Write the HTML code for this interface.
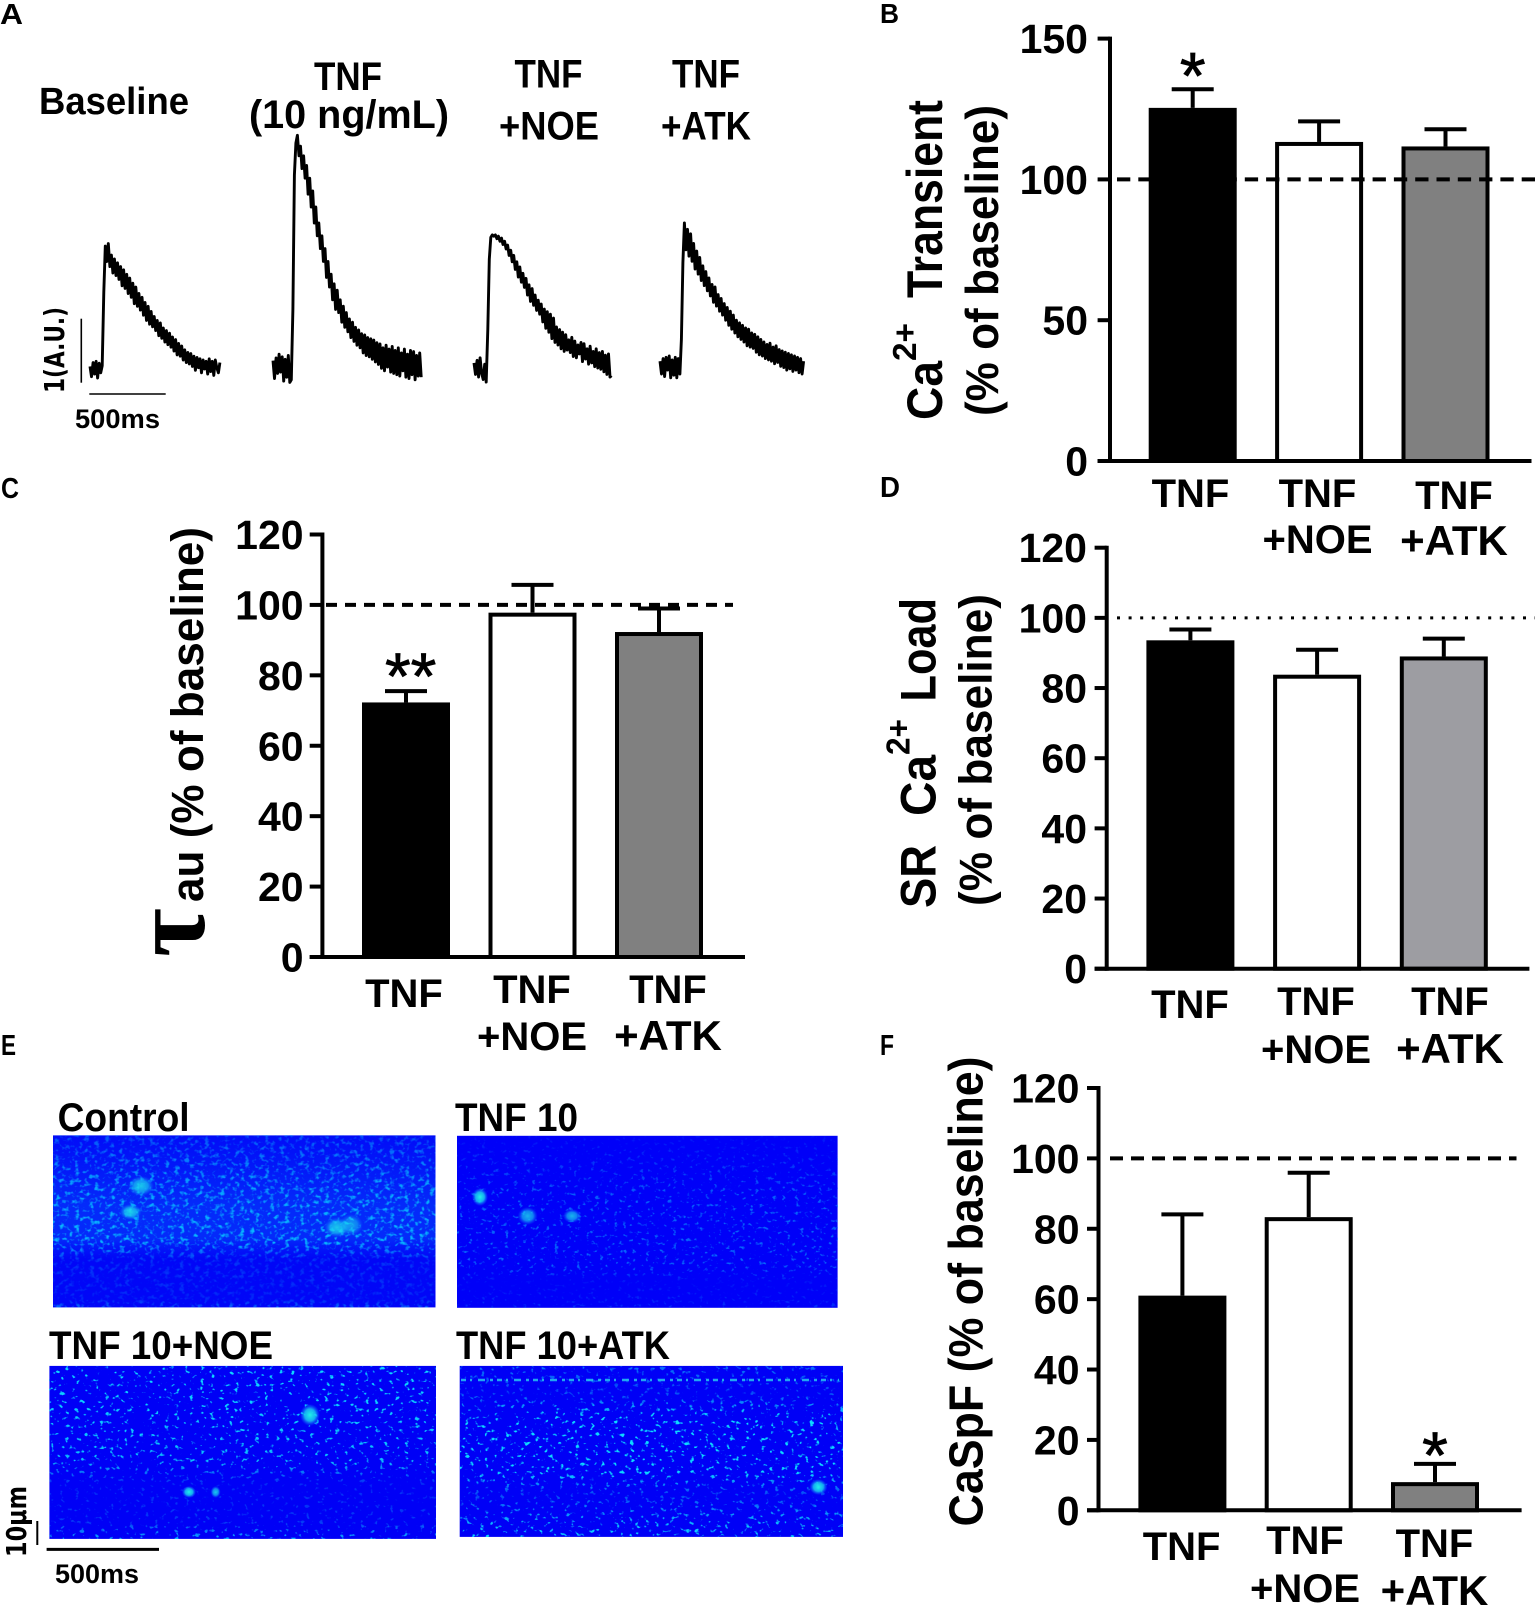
<!DOCTYPE html>
<html lang="en">
<head>
<meta charset="utf-8">
<title>TNF calcium transient figure</title>
<style>
html,body{margin:0;padding:0;background:#fff;}
svg{display:block;position:absolute;left:0;top:0;}
text{font-family:"Liberation Sans",sans-serif;fill:#000;}
.b{font-weight:700;}
</style>
</head>
<body>
<svg id="fig" xmlns="http://www.w3.org/2000/svg" width="1535" height="1605" viewBox="0 0 1535 1605">
<defs>
<filter id="speckDense" x="0" y="0" width="100%" height="100%" color-interpolation-filters="sRGB"><feTurbulence type="fractalNoise" baseFrequency=".2 .24" numOctaves="2" seed="4"/><feColorMatrix type="matrix" values="0 0 0 0 .03 0 0 0 0 .72 0 0 0 0 1 4 0 0 0 -2.05"/></filter>
<filter id="speckA" x="0" y="0" width="100%" height="100%" color-interpolation-filters="sRGB"><feTurbulence type="fractalNoise" baseFrequency=".22 .26" numOctaves="2" seed="11"/><feColorMatrix type="matrix" values="0 0 0 0 .03 0 0 0 0 .55 0 0 0 0 1 6 0 0 0 -3.7"/></filter>
<filter id="speckB" x="0" y="0" width="100%" height="100%" color-interpolation-filters="sRGB"><feTurbulence type="fractalNoise" baseFrequency=".2 .24" numOctaves="2" seed="23"/><feColorMatrix type="matrix" values="0 0 0 0 .05 0 0 0 0 .85 0 0 0 0 1 8 0 0 0 -5.1"/></filter>
<filter id="speckC" x="0" y="0" width="100%" height="100%" color-interpolation-filters="sRGB"><feTurbulence type="fractalNoise" baseFrequency=".2 .24" numOctaves="2" seed="37"/><feColorMatrix type="matrix" values="0 0 0 0 .05 0 0 0 0 .85 0 0 0 0 1 8 0 0 0 -5"/></filter>
<linearGradient id="maskControl" x1="0" y1="0" x2="0" y2="1"><stop offset="0" stop-color="#666"/><stop offset=".3" stop-color="#ddd"/><stop offset=".62" stop-color="#fff"/><stop offset=".72" stop-color="#444"/><stop offset=".95" stop-color="#333"/><stop offset="1" stop-color="#999"/></linearGradient>
<linearGradient id="maskTnf" x1="0" y1="0" x2="0" y2="1"><stop offset="0" stop-color="#222"/><stop offset=".35" stop-color="#aaa"/><stop offset=".75" stop-color="#bbb"/><stop offset=".85" stop-color="#222"/><stop offset="1" stop-color="#555"/></linearGradient>
<linearGradient id="maskNoe" x1="0" y1="0" x2="0" y2="1"><stop offset="0" stop-color="#fff"/><stop offset=".55" stop-color="#ddd"/><stop offset=".68" stop-color="#333"/><stop offset=".9" stop-color="#444"/><stop offset="1" stop-color="#ccc"/></linearGradient>
<linearGradient id="maskAtk" x1="0" y1="0" x2="0" y2="1"><stop offset="0" stop-color="#888"/><stop offset=".15" stop-color="#555"/><stop offset=".3" stop-color="#fff"/><stop offset=".62" stop-color="#fff"/><stop offset=".75" stop-color="#555"/><stop offset=".9" stop-color="#ccc"/><stop offset="1" stop-color="#fff"/></linearGradient>
<linearGradient id="bandControl" x1="0" y1="0" x2="0" y2="1"><stop offset="0" stop-color="#0a50ff" stop-opacity=".15"/><stop offset=".4" stop-color="#0a68ff" stop-opacity=".4"/><stop offset=".6" stop-color="#0a68ff" stop-opacity=".4"/><stop offset=".72" stop-color="#0a40ff" stop-opacity=".1"/><stop offset="1" stop-color="#0a40ff" stop-opacity=".1"/></linearGradient>
<radialGradient id="spot"><stop offset="0" stop-color="#20f0e8"/><stop offset=".55" stop-color="#18d8f0" stop-opacity=".8"/><stop offset="1" stop-color="#1080ff" stop-opacity="0"/></radialGradient>
<mask id="mControl" maskUnits="userSpaceOnUse" x="53" y="1135" width="383" height="173"><rect x="53" y="1135" width="383" height="173" fill="url(#maskControl)"/></mask>
<mask id="mTnf" maskUnits="userSpaceOnUse" x="457" y="1136" width="381" height="172"><rect x="457" y="1136" width="381" height="172" fill="url(#maskTnf)"/></mask>
<mask id="mNoe" maskUnits="userSpaceOnUse" x="49" y="1366" width="387" height="173"><rect x="49" y="1366" width="387" height="173" fill="url(#maskNoe)"/></mask>
<mask id="mAtk" maskUnits="userSpaceOnUse" x="460" y="1366" width="383" height="171"><rect x="460" y="1366" width="383" height="171" fill="url(#maskAtk)"/></mask>
</defs>

<!-- Panel letters -->
<text class="b" x="0" y="24" font-size="29" textLength="23" lengthAdjust="spacingAndGlyphs">A</text>
<text class="b" x="880" y="23" font-size="28" textLength="19" lengthAdjust="spacingAndGlyphs">B</text>
<text class="b" x="1" y="498" font-size="29" textLength="18" lengthAdjust="spacingAndGlyphs">C</text>
<text class="b" x="880" y="497" font-size="29" textLength="20" lengthAdjust="spacingAndGlyphs">D</text>
<text class="b" x="1" y="1055" font-size="29" textLength="15" lengthAdjust="spacingAndGlyphs">E</text>
<text class="b" x="880" y="1055" font-size="29" textLength="14" lengthAdjust="spacingAndGlyphs">F</text>

<!-- Panel A headers -->
<text class="b" x="39" y="114" font-size="38" textLength="150" lengthAdjust="spacingAndGlyphs">Baseline</text>
<text class="b" x="314" y="90" font-size="40" textLength="68" lengthAdjust="spacingAndGlyphs">TNF</text>
<text class="b" x="249" y="128" font-size="40" textLength="200" lengthAdjust="spacingAndGlyphs">(10 ng/mL)</text>
<text class="b" x="514.5" y="87.5" font-size="40" textLength="68" lengthAdjust="spacingAndGlyphs">TNF</text>
<text class="b" x="499" y="139.5" font-size="40" textLength="100" lengthAdjust="spacingAndGlyphs">+NOE</text>
<text class="b" x="672" y="87.5" font-size="40" textLength="68" lengthAdjust="spacingAndGlyphs">TNF</text>
<text class="b" x="661" y="139.5" font-size="40" textLength="90" lengthAdjust="spacingAndGlyphs">+ATK</text>
<line x1="81.3" y1="318.7" x2="81.3" y2="382.7" stroke="#000" stroke-width="1.6"/>
<line x1="89.3" y1="394" x2="165.7" y2="394" stroke="#000" stroke-width="1.6"/>
<text transform="translate(64,393) rotate(-90)" font-size="28" textLength="86" lengthAdjust="spacingAndGlyphs" style="font-family:'DejaVu Sans',sans-serif;font-weight:700">1(A.U.)</text>
<text class="b" x="75" y="428" font-size="27" textLength="85" lengthAdjust="spacingAndGlyphs">500ms</text>

<g id="traces"></g>
<g id="panelB"></g>
<g id="panelC"></g>
<g id="panelD"></g>
<g id="panelF"></g>

<!-- Y titles -->
<text class="b" transform="translate(941.8,420) rotate(-90)" font-size="50" textLength="59" lengthAdjust="spacingAndGlyphs">Ca</text>
<text class="b" transform="translate(916,361) rotate(-90)" font-size="33" textLength="38" lengthAdjust="spacingAndGlyphs">2+</text>
<text class="b" transform="translate(941.8,298) rotate(-90)" font-size="50" textLength="198" lengthAdjust="spacingAndGlyphs">Transient</text>
<text class="b" transform="translate(997.8,416) rotate(-90)" font-size="46" textLength="311" lengthAdjust="spacingAndGlyphs">(% of baseline)</text>
<text transform="translate(204,957) rotate(-90)" font-size="106" font-weight="700" style="font-family:'Liberation Serif',serif">τ</text>
<text class="b" transform="translate(203,902) rotate(-90)" font-size="45" textLength="375" lengthAdjust="spacingAndGlyphs">au (% of baseline)</text>
<text class="b" transform="translate(935.3,908) rotate(-90)" font-size="50" textLength="63" lengthAdjust="spacingAndGlyphs">SR</text>
<text class="b" transform="translate(935.3,816) rotate(-90)" font-size="50" textLength="61" lengthAdjust="spacingAndGlyphs">Ca</text>
<text class="b" transform="translate(909.5,755) rotate(-90)" font-size="33" textLength="36" lengthAdjust="spacingAndGlyphs">2+</text>
<text class="b" transform="translate(935.3,701.5) rotate(-90)" font-size="50" textLength="103.5" lengthAdjust="spacingAndGlyphs">Load</text>
<text class="b" transform="translate(991.3,906) rotate(-90)" font-size="46" textLength="312" lengthAdjust="spacingAndGlyphs">(% of baseline)</text>
<text class="b" transform="translate(982.7,1526.5) rotate(-90)" font-size="48" textLength="470" lengthAdjust="spacingAndGlyphs">CaSpF (% of baseline)</text>

<!-- Panel E line-scan images -->
<text class="b" x="57.6" y="1131" font-size="40" textLength="132" lengthAdjust="spacingAndGlyphs">Control</text>
<text class="b" x="455" y="1131" font-size="40" textLength="123" lengthAdjust="spacingAndGlyphs">TNF 10</text>
<text class="b" x="49" y="1359" font-size="40" textLength="224" lengthAdjust="spacingAndGlyphs">TNF 10+NOE</text>
<text class="b" x="456" y="1359" font-size="40" textLength="214" lengthAdjust="spacingAndGlyphs">TNF 10+ATK</text>

<g>
<rect x="53" y="1135.4" width="382.5" height="172" fill="#0000f6"/>
<rect x="53" y="1135.4" width="382.5" height="172" fill="url(#bandControl)"/>
<g mask="url(#mControl)"><rect x="53" y="1135.4" width="382.5" height="172" filter="url(#speckDense)"/></g>
<ellipse cx="141" cy="1186" rx="13" ry="10" fill="url(#spot)" opacity=".8"/>
<ellipse cx="130.5" cy="1212" rx="11" ry="8" fill="url(#spot)" opacity=".85"/>
<ellipse cx="337" cy="1227.5" rx="13" ry="10" fill="url(#spot)" opacity=".8"/>
<ellipse cx="351" cy="1225" rx="12" ry="11" fill="url(#spot)" opacity=".6"/>
</g>
<g>
<rect x="457" y="1135.8" width="380.6" height="172" fill="#0000f8"/>
<g mask="url(#mTnf)"><rect x="457" y="1135.8" width="380.6" height="172" filter="url(#speckA)"/></g>
<ellipse cx="480" cy="1197" rx="8" ry="9" fill="url(#spot)"/>
<ellipse cx="527.7" cy="1216" rx="10" ry="9" fill="url(#spot)" opacity=".75"/>
<ellipse cx="572" cy="1216" rx="9" ry="7" fill="url(#spot)" opacity=".75"/>
</g>
<g>
<rect x="49.4" y="1365.9" width="386.6" height="173" fill="#0000f6"/>
<g mask="url(#mNoe)"><rect x="49.4" y="1365.9" width="386.6" height="173" filter="url(#speckB)"/></g>
<ellipse cx="310" cy="1415" rx="10" ry="11" fill="url(#spot)"/>
<ellipse cx="189" cy="1492" rx="7" ry="6" fill="url(#spot)"/>
<ellipse cx="215.6" cy="1492" rx="5" ry="6" fill="url(#spot)" opacity=".8"/>
</g>
<g>
<rect x="459.7" y="1365.9" width="383.3" height="171" fill="#0000f6"/>
<g mask="url(#mAtk)"><rect x="459.7" y="1365.9" width="383.3" height="171" filter="url(#speckC)"/></g>
<line x1="461" y1="1380" x2="839" y2="1380" stroke="#28d0f0" stroke-width="2.5" stroke-dasharray="5 4 2 6 7 5 3 4" opacity=".8"/>
<ellipse cx="818.4" cy="1487" rx="9" ry="8" fill="url(#spot)"/>
</g>
<line x1="37.3" y1="1521" x2="37.3" y2="1545" stroke="#000" stroke-width="2"/>
<line x1="46.6" y1="1549.4" x2="159" y2="1549.4" stroke="#000" stroke-width="3"/>
<text transform="translate(26,1557) rotate(-90)" font-size="28" textLength="71" lengthAdjust="spacingAndGlyphs" style="font-family:'DejaVu Sans',sans-serif;font-weight:700">10µm</text>
<text class="b" x="55" y="1583" font-size="27" textLength="84" lengthAdjust="spacingAndGlyphs">500ms</text>
</svg>

<script>
// ---------- Bar chart data ----------
const categoryLines = [['TNF'], ['TNF', '+NOE'], ['TNF', '+ATK']];
const referenceValue = 100;

const caTicks = [0, 50, 100, 150];
const caMeans = [125.4, 113.3, 111.7];
const caErrors = [6.6, 7.3, 6.1];

const tauTicks = [0, 20, 40, 60, 80, 100, 120];
const tauMeans = [72.3, 97.8, 92.3];
const tauErrors = [3.2, 7.9, 6.7];

const srTicks = [0, 20, 40, 60, 80, 100, 120];
const srMeans = [93.6, 83.8, 89.0];
const srErrors = [3.1, 7.1, 5.1];

const sparkTicks = [0, 20, 40, 60, 80, 100, 120];
const sparkMeans = [61.0, 83.3, 8.0];
const sparkErrors = [23.1, 12.6, 5.2];

// ---------- Ca2+ trace data: one sample every 10 ms, in hundredths of the 1 A.U. scale bar ----------
const traceBaseline = [4,-12,10,-8,12,-14,9,-6,5,120,192,168,196,160,178,150,172,146,166,140,160,130,155,126,148,118,142,112,134,102,128,98,118,92,112,84,104,76,98,70,90,66,82,60,76,52,72,48,64,42,60,38,56,34,50,28,46,22,40,20,36,14,30,10,26,8,24,4,20,-2,18,2,16,-6,14,0,12,-8,16,-4,12,-10,14,2,-6,10];
const traceTnf = [10,-18,14,-10,20,-8,16,-22,12,-16,18,-24,-20,90,300,350,362,330,345,310,330,295,315,270,295,250,275,225,250,205,225,185,205,165,185,140,165,125,145,105,130,90,120,85,105,70,95,62,85,55,75,46,70,40,62,34,58,30,52,22,50,18,46,16,44,12,42,8,38,4,36,-2,30,-6,34,0,28,-8,32,-10,26,-12,30,-14,22,-6,28,-16,20,-18,26,-12,24,-20,18,-14,22,-16];
const traceNoe = [8,-10,12,-14,16,-8,-18,6,-22,60,170,204,208,206,208,202,206,198,203,193,198,186,192,176,184,166,176,154,166,142,158,134,148,126,140,114,130,104,124,98,114,90,106,84,100,72,92,62,88,56,84,46,78,40,64,36,60,30,56,26,52,28,44,24,48,18,42,16,36,22,40,10,38,14,30,6,34,8,26,2,30,0,24,-2,26,-6,20,-10,22,-14,-12];
const traceAtk = [6,-14,10,-18,12,-8,14,-20,8,-16,12,-20,10,-14,40,160,222,180,212,170,205,162,190,150,178,142,168,132,155,124,146,116,136,108,126,98,122,92,110,84,104,78,96,70,90,62,84,56,78,50,70,44,66,40,62,36,58,30,56,28,50,26,48,20,44,16,40,14,36,10,32,8,34,6,28,2,30,4,24,-2,22,-4,20,-8,18,-6,16,-10,14,-8,12,-12,10,-14,6];

const SVGNS = 'http://www.w3.org/2000/svg';

// Scale shared with the printed scale bars: 500 ms = 76.4 px, 100 units (1 A.U.) = 64 px
function traceX(x0, i) { return x0 + (i * 10) * 76.4 / 500; }
function traceY(y0, v) { return y0 - v * 0.64; }

function drawTrace(series, x0, y0, label) {
  const line = document.createElementNS(SVGNS, 'polyline');
  
  
  line.setAttribute('points', series.map((v, i) => traceX(x0, i).toFixed(1) + ',' + traceY(y0, v).toFixed(1)).join(' '));
  line.setAttribute('fill', 'none');
  line.setAttribute('stroke', '#000');
  line.setAttribute('stroke-width', '2.9');
  line.setAttribute('stroke-linejoin', 'round');
  document.getElementById('traces').appendChild(line);
}
drawTrace(traceBaseline, 90, 369, 'trace-baseline');
drawTrace(traceTnf, 273, 367, 'trace-tnf');
drawTrace(traceNoe, 474, 368, 'trace-tnf-noe');
drawTrace(traceAtk, 660, 365, 'trace-tnf-atk');

function drawBarChart(c) {
  const g = document.getElementById(c.target);
  const top = Math.max.apply(null, c.ticks);
  const yOf = v => c.yZero - v / top * (c.yZero - c.yTop);
  const xOf = i => c.firstCenter + i * c.step;

  // bars
  c.means.forEach((m, i) => {
    const bar = document.createElementNS(SVGNS, 'rect');
    
    
    bar.setAttribute('x', xOf(i) - 42);
    bar.setAttribute('y', yOf(m) + 2);
    bar.setAttribute('width', 84);
    bar.setAttribute('height', c.yZero - yOf(m) - 2);
    bar.setAttribute('fill', c.fills[i]);
    bar.setAttribute('stroke', '#000');
    bar.setAttribute('stroke-width', 4);
    g.appendChild(bar);

    const stem = document.createElementNS(SVGNS, 'line');
    
    
    stem.setAttribute('x1', xOf(i));
    stem.setAttribute('x2', xOf(i));
    stem.setAttribute('y1', yOf(m));
    stem.setAttribute('y2', yOf(m + c.errors[i]));
    stem.setAttribute('stroke', '#000');
    stem.setAttribute('stroke-width', 4);
    g.appendChild(stem);

    const cap = document.createElementNS(SVGNS, 'line');
    
    
    cap.setAttribute('x1', xOf(i) - 21);
    cap.setAttribute('x2', xOf(i) + 21);
    cap.setAttribute('y1', yOf(m + c.errors[i]));
    cap.setAttribute('y2', yOf(m + c.errors[i]));
    cap.setAttribute('stroke', '#000');
    cap.setAttribute('stroke-width', 4);
    g.appendChild(cap);
  });

  // reference line
  const ref = document.createElementNS(SVGNS, 'line');
  
  
  ref.setAttribute('x1', c.refStart);
  ref.setAttribute('x2', c.refEnd);
  ref.setAttribute('y1', yOf(referenceValue));
  ref.setAttribute('y2', yOf(referenceValue));
  ref.setAttribute('stroke', '#000');
  ref.setAttribute('stroke-width', c.refWidth);
  ref.setAttribute('stroke-dasharray', c.refDash);
  g.appendChild(ref);

  // axes
  const yAxis = document.createElementNS(SVGNS, 'line');
  
  
  yAxis.setAttribute('x1', c.axisX);
  yAxis.setAttribute('x2', c.axisX);
  yAxis.setAttribute('y1', yOf(top) - 2);
  yAxis.setAttribute('y2', c.yZero + 2);
  yAxis.setAttribute('stroke', '#000');
  yAxis.setAttribute('stroke-width', 4);
  g.appendChild(yAxis);

  const xAxis = document.createElementNS(SVGNS, 'line');
  
  
  xAxis.setAttribute('x1', c.tickLeft);
  xAxis.setAttribute('x2', c.axisEnd);
  xAxis.setAttribute('y1', c.yZero);
  xAxis.setAttribute('y2', c.yZero);
  xAxis.setAttribute('stroke', '#000');
  xAxis.setAttribute('stroke-width', 4);
  g.appendChild(xAxis);

  c.ticks.forEach(t => {
    const tick = document.createElementNS(SVGNS, 'line');
    
    
    tick.setAttribute('x1', c.tickLeft);
    tick.setAttribute('x2', c.axisX);
    tick.setAttribute('y1', yOf(t));
    tick.setAttribute('y2', yOf(t));
    tick.setAttribute('stroke', '#000');
    tick.setAttribute('stroke-width', 4);
    g.appendChild(tick);

    const tl = document.createElementNS(SVGNS, 'text');
    
    
    tl.setAttribute('class', 'b');
    tl.setAttribute('x', c.labelRight);
    tl.setAttribute('y', yOf(t) + 14.5);
    tl.setAttribute('font-size', 41);
    tl.setAttribute('text-anchor', 'end');
    tl.textContent = t;
    g.appendChild(tl);
  });

  // category labels
  categoryLines.forEach((lines, i) => {
    lines.forEach((s, j) => {
      const cl = document.createElementNS(SVGNS, 'text');
      
      
      cl.setAttribute('class', 'b');
      cl.setAttribute('x', c.catX[i]);
      cl.setAttribute('y', c.catY[i][j]);
      cl.setAttribute('font-size', s === '+ATK' ? 42 : 40);
      cl.setAttribute('text-anchor', 'middle');
      cl.textContent = s;
      g.appendChild(cl);
    });
  });

  // significance marks
  if (c.star) {
    const st = document.createElementNS(SVGNS, 'text');
    
    
    st.setAttribute('x', xOf(c.star.bar) + (c.star.dx || 0));
    st.setAttribute('y', yOf(c.means[c.star.bar] + c.errors[c.star.bar]) + c.star.gap);
    st.setAttribute('font-size', 66);
    st.setAttribute('text-anchor', 'middle');
    st.setAttribute('stroke', '#000');
    st.setAttribute('stroke-width', 0.8);
    st.textContent = c.star.text;
    g.appendChild(st);
  }
}

const black = '#000', white = '#fff', grey = '#808080', lightGrey = '#9d9da2';

drawBarChart({ target: 'panelB', key: 'b', ticks: caTicks, means: caMeans, errors: caErrors,
  yZero: 461, yTop: 38.6, axisX: 1110, tickLeft: 1097.6, axisEnd: 1531.5, labelRight: 1088,
  firstCenter: 1192.7, step: 126.4, fills: [black, white, grey],
  refStart: 1117, refEnd: 1535, refWidth: 4, refDash: '13.3 8',
  catX: [1190.5, 1317.5, 1454], catY: [[507], [507, 553], [509, 555]],
  star: { bar: 0, text: '*', gap: 9 } });

drawBarChart({ target: 'panelC', key: 'c', ticks: tauTicks, means: tauMeans, errors: tauErrors,
  yZero: 957, yTop: 534.5, axisX: 322.4, tickLeft: 309.7, axisEnd: 745, labelRight: 303.6,
  firstCenter: 406, step: 126.5, fills: [black, white, grey],
  refStart: 326, refEnd: 733, refWidth: 4, refDash: '11 8',
  catX: [404, 532, 668], catY: [[1007], [1003, 1050], [1003, 1050]],
  star: { bar: 0, text: '**', gap: 8, dx: 4.7 } });

drawBarChart({ target: 'panelD', key: 'd', ticks: srTicks, means: srMeans, errors: srErrors,
  yZero: 968.7, yTop: 547.7, axisX: 1106.7, tickLeft: 1094.6, axisEnd: 1529.4, labelRight: 1087,
  firstCenter: 1190.4, step: 126.7, fills: [black, white, lightGrey],
  refStart: 1117, refEnd: 1535, refWidth: 3, refDash: '3 8.6',
  catX: [1190, 1316, 1450], catY: [[1018], [1015, 1063], [1015, 1063]] });

drawBarChart({ target: 'panelF', key: 'f', ticks: sparkTicks, means: sparkMeans, errors: sparkErrors,
  yZero: 1510.3, yTop: 1088, axisX: 1098.5, tickLeft: 1087, axisEnd: 1521.6, labelRight: 1079.5,
  firstCenter: 1182.4, step: 126.3, fills: [black, white, grey],
  refStart: 1110, refEnd: 1516.5, refWidth: 4, refDash: '13 8',
  catX: [1181.6, 1305, 1434.5], catY: [[1560], [1554, 1602], [1557, 1605]],
  star: { bar: 2, text: '*', gap: 14 } });
</script>
</body>
</html>
